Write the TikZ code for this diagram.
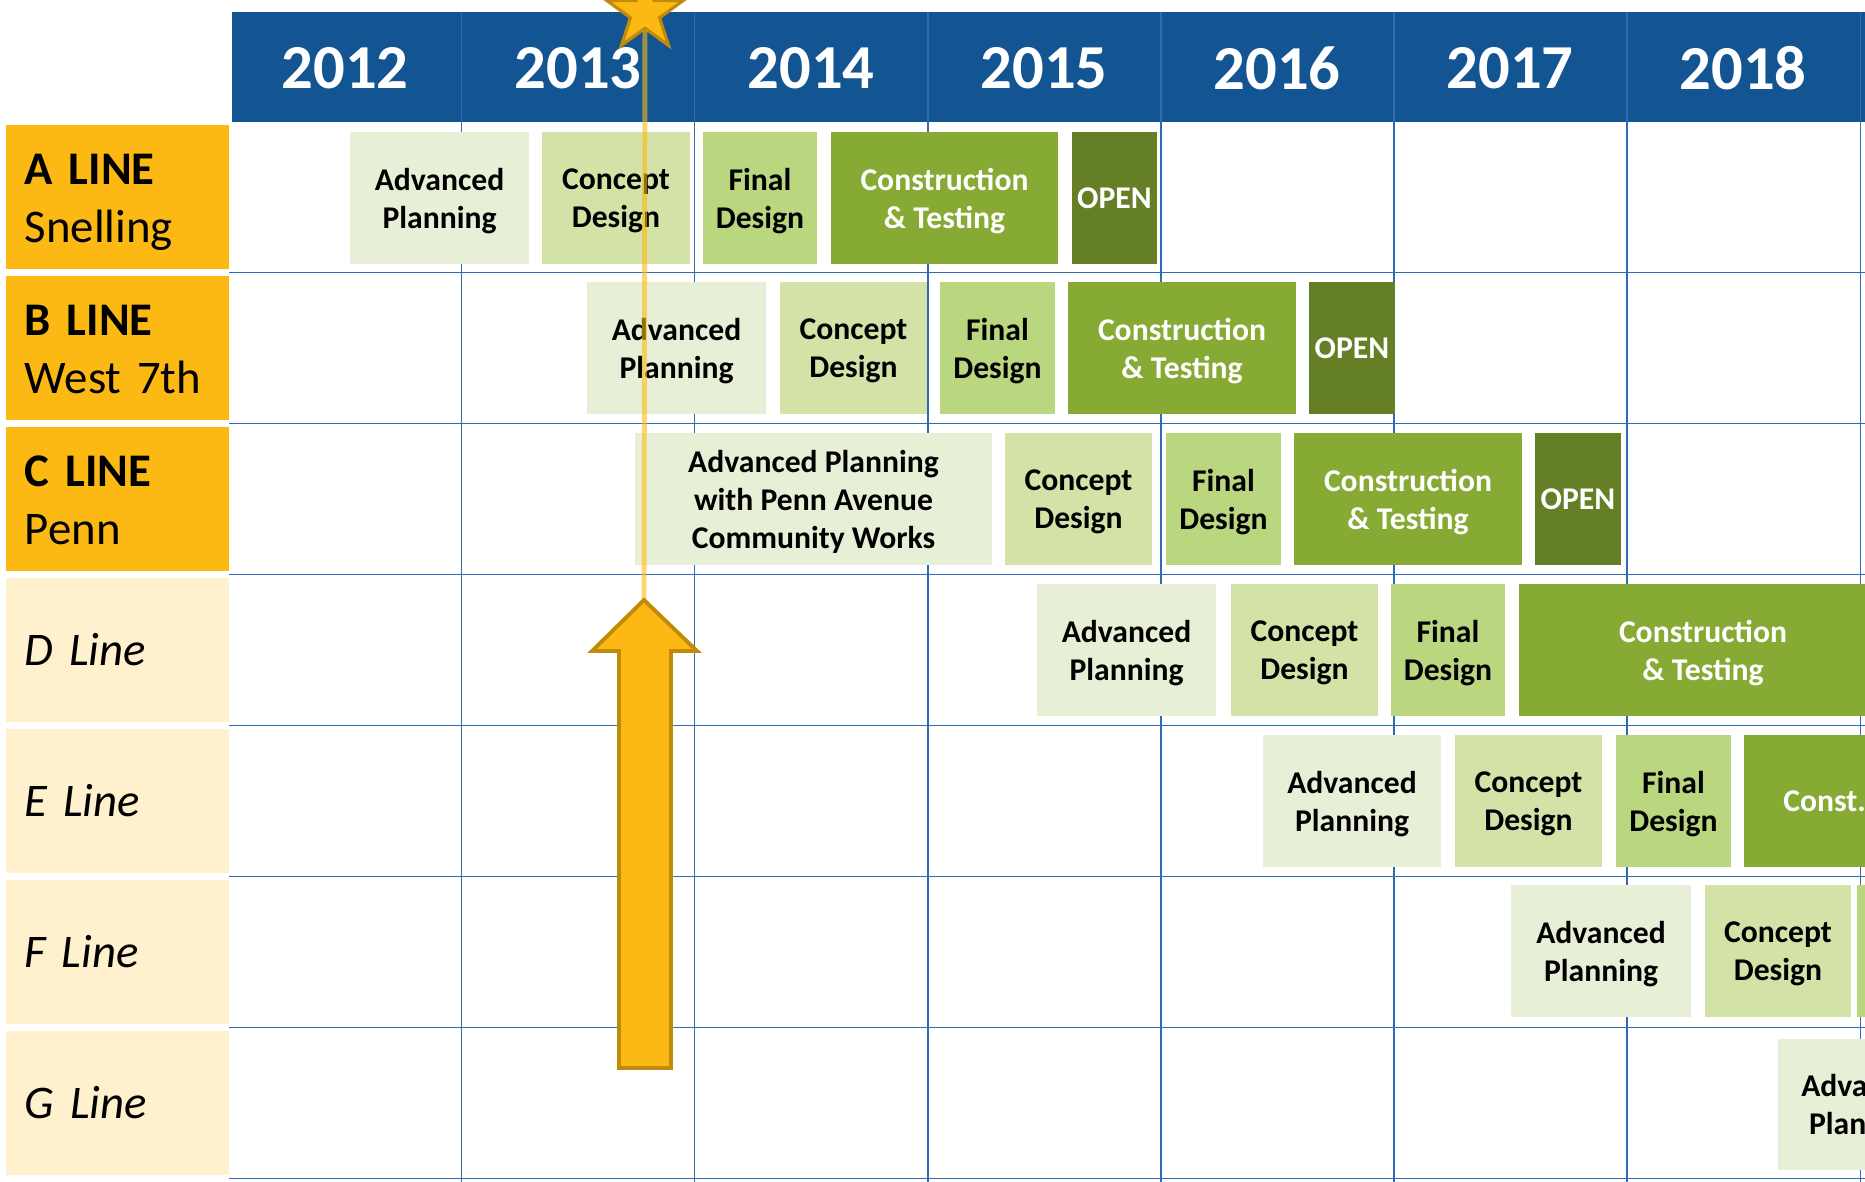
\documentclass[tikz,border=0pt]{standalone}
\usepackage{fontspec}
\setmainfont{Carlito}
\usepackage{tikz}
\usetikzlibrary{shapes.geometric, positioning}
\definecolor{headblue}{HTML}{135492}
\definecolor{gridblue}{HTML}{2E6CB4}
\definecolor{linegold}{HTML}{FDB913}
\definecolor{golddark}{HTML}{C08B0B}
\definecolor{linecream}{HTML}{FFF0CE}
\definecolor{advgreen}{HTML}{E7F0D6}
\definecolor{conceptgreen}{HTML}{D3E3A7}
\definecolor{finalgreen}{HTML}{BAD67E}
\definecolor{constrgreen}{HTML}{86AA34}
\definecolor{opengreen}{HTML}{647F26}
\tikzset{
    yearlbl/.style={text=white, inner sep=0pt, font=\fontsize{17.8}{20}\selectfont\bfseries},
    linecell/.style={fill=linegold, minimum width=2.23cm, minimum height=1.44cm,
        inner xsep=0.19cm, inner ysep=0pt, text width=1.85cm, align=left,
        font=\fontsize{13.3}{16.6}\selectfont},
    futurecell/.style={linecell, fill=linecream, font=\fontsize{13.3}{16.6}\selectfont\itshape},
    phase/.style={minimum height=1.31cm, inner sep=0pt, align=center, text depth=0pt,
        font=\fontsize{9}{10.8}\selectfont\bfseries},
    advbox/.style={phase, fill=advgreen},
    conceptbox/.style={phase, fill=conceptgreen},
    finalbox/.style={phase, fill=finalgreen},
    constrbox/.style={phase, fill=constrgreen, text=white},
    openbox/.style={phase, fill=opengreen, text=white},
    gridline/.style={draw=gridblue, line width=0.5pt},
    markline/.style={draw=linegold, opacity=0.6, line width=1.4pt},
    bigarrow/.style={fill=linegold, draw=golddark, line width=1.1pt, line join=miter}
}

\begin{document}
\begin{tikzpicture}[x=0.01cm, y=-0.01cm]
        \useasboundingbox (0, 0) rectangle (1865, 1182);
        \clip (0, 0) rectangle (1865, 1182);

        % year header
        \fill[headblue] (232, 12) rectangle (1865, 122);
        \node[yearlbl] (y2012) at (345, 68) {2012};
        \node[yearlbl] (y2013) at (578, 68) {2013};
        \node[yearlbl] (y2014) at (811, 68) {2014};
        \node[yearlbl] (y2015) at (1044, 68) {2015};
        \node[yearlbl] (y2016) at (1277, 68) {2016};
        \node[yearlbl] (y2017) at (1510, 68) {2017};
        \node[yearlbl] (y2018) at (1743, 68) {2018};

        % grid
        \draw[gridline] (229, 272.5) -- (1865, 272.5);
        \draw[gridline] (229, 423.5) -- (1865, 423.5);
        \draw[gridline] (229, 574.5) -- (1865, 574.5);
        \draw[gridline] (229, 725.5) -- (1865, 725.5);
        \draw[gridline] (229, 876.5) -- (1865, 876.5);
        \draw[gridline] (229, 1027.5) -- (1865, 1027.5);
        \draw[gridline] (229, 1178.5) -- (1865, 1178.5);
        \draw[gridline] (461.5, 12) -- (461.5, 1182);
        \draw[gridline] (694.6, 12) -- (694.6, 1182);
        \draw[gridline] (927.7, 12) -- (927.7, 1182);
        \draw[gridline] (1160.9, 12) -- (1160.9, 1182);
        \draw[gridline] (1394, 12) -- (1394, 1182);
        \draw[gridline] (1627, 12) -- (1627, 1182);
        \draw[gridline] (1860.5, 12) -- (1860.5, 1182);

        % line names
        \node[linecell] (lineA) at (117.5, 197) {\rule{0pt}{14.3pt}\textbf{A LINE}\\Snelling\strut};
        \node[linecell] (lineB) at (117.5, 348) {\rule{0pt}{14.3pt}\textbf{B LINE}\\West 7th\strut};
        \node[linecell] (lineC) at (117.5, 499) {\rule{0pt}{14.3pt}\textbf{C LINE}\\Penn\strut};
        \node[futurecell] (lineD) at (117.5, 650) {D Line};
        \node[futurecell] (lineE) at (117.5, 801) {E Line};
        \node[futurecell] (lineF) at (117.5, 952) {F Line};
        \node[futurecell] (lineG) at (117.5, 1103) {G Line};

        % A line
        \node[advbox, minimum width=1.79cm] (aplan) at (439.5, 198) {Advanced\\Planning};
        \node[conceptbox, minimum width=1.48cm] (adesign) at (616, 198) {Concept\\Design};
        \node[finalbox, minimum width=1.14cm] (afinal) at (760, 198) {Final\\Design};
        \node[constrbox, minimum width=2.27cm] (abuild) at (944.5, 198) {Construction\\\& Testing};
        \node[openbox, minimum width=0.85cm] (aopen) at (1114.5, 198) {OPEN};

        % B line
        \node[advbox, minimum width=1.79cm] (bplan) at (676.5, 348) {Advanced\\Planning};
        \node[conceptbox, minimum width=1.47cm] (bdesign) at (853.5, 348) {Concept\\Design};
        \node[finalbox, minimum width=1.15cm] (bfinal) at (997.5, 348) {Final\\Design};
        \node[constrbox, minimum width=2.28cm] (bbuild) at (1182, 348) {Construction\\\& Testing};
        \node[openbox, minimum width=0.86cm] (bopen) at (1352, 348) {OPEN};

        % C line
        \node[advbox, minimum width=3.57cm] (cplan) at (813.5, 499) {Advanced Planning\\with Penn Avenue\\Community Works};
        \node[conceptbox, minimum width=1.47cm] (cdesign) at (1078.5, 499) {Concept\\Design};
        \node[finalbox, minimum width=1.15cm] (cfinal) at (1223.5, 499) {Final\\Design};
        \node[constrbox, minimum width=2.28cm] (cbuild) at (1408, 499) {Construction\\\& Testing};
        \node[openbox, minimum width=0.86cm] (copen) at (1578, 499) {OPEN};

        % D line
        \node[advbox, minimum width=1.79cm] (dplan) at (1126.5, 650) {Advanced\\Planning};
        \node[conceptbox, minimum width=1.47cm] (ddesign) at (1304.5, 650) {Concept\\Design};
        \node[finalbox, minimum width=1.14cm] (dfinal) at (1448, 650) {Final\\Design};
        \node[constrbox, minimum width=3.68cm] (dbuild) at (1703, 650) {Construction\\\& Testing};

        % E line
        \node[advbox, minimum width=1.78cm] (eplan) at (1352, 801) {Advanced\\Planning};
        \node[conceptbox, minimum width=1.47cm] (edesign) at (1528.5, 801) {Concept\\Design};
        \node[finalbox, minimum width=1.15cm] (efinal) at (1673.5, 801) {Final\\Design};
        \node[constrbox, minimum width=1.61cm] (ebuild) at (1824.5, 801) {Const.};

        % F line
        \node[advbox, minimum width=1.80cm] (fplan) at (1601, 951) {Advanced\\Planning};
        \node[conceptbox, minimum width=1.46cm] (fdesign) at (1778, 951) {Concept\\Design};
        \node[finalbox, minimum width=1.15cm] (ffinal) at (1914.5, 951) {};

        % G line
        \node[advbox, minimum width=1.76cm] (gplan) at (1866, 1104.5) {Advanced\\Planning};

        % today marker
        \coordinate (tip) at (644, 600);
        \node[star, star points=5, star point ratio=2.618, minimum size=0.80cm, inner sep=0pt,
            fill=linegold, draw=golddark, line width=0.9pt] (mark) at (645, 13) {};
        \draw[markline] (mark) -- (tip);
        \draw[bigarrow] (tip) -- (697, 651) -- (671, 651) -- (671, 1068) -- (619, 1068)
            -- (619, 651) -- (592, 651) -- cycle;
    \end{tikzpicture}
\end{document}
